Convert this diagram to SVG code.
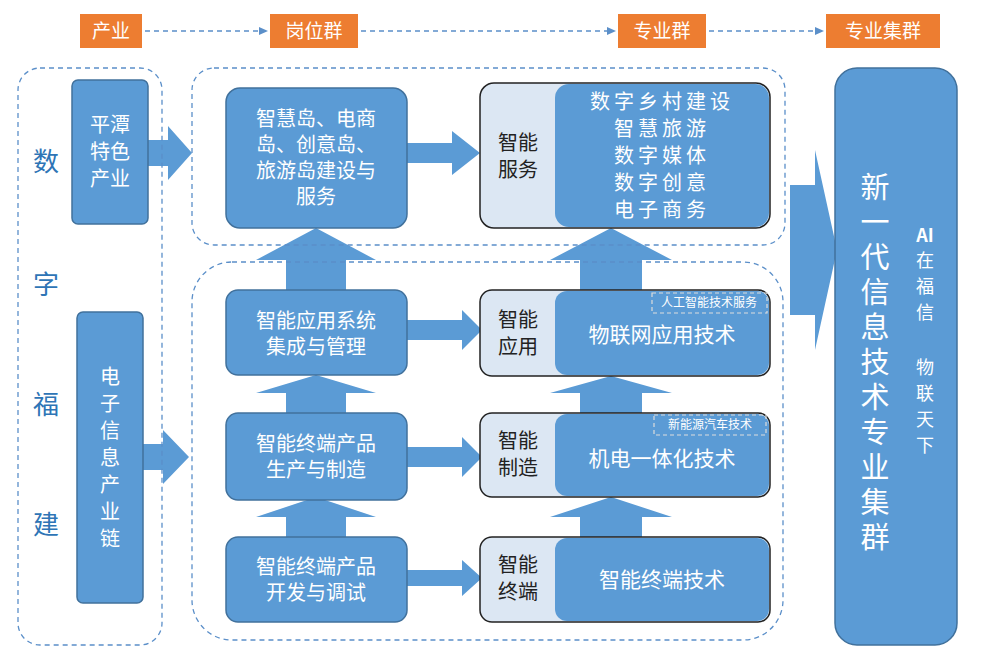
<svg xmlns="http://www.w3.org/2000/svg" width="1004" height="665" viewBox="0 0 1004 665">
<style>
text{font-family:"Noto Sans CJK SC","Liberation Sans",sans-serif;}
.hd{fill:#ED7D31}
.ht{fill:#fff;font-size:19px;text-anchor:middle}
.dash{fill:none;stroke:#5B8FC9;stroke-width:1.3;stroke-dasharray:5 4}
.bx{fill:#5B9BD5;stroke:#41719C;stroke-width:1.5}
.wt{fill:#fff;font-size:20px;text-anchor:middle}
.outer{fill:#DCE7F3;stroke:#222;stroke-width:1.5}
.inner{fill:#5B9BD5}
.dt{fill:#222;font-size:20px;text-anchor:middle}
.ar{fill:#5B9BD5}
.sm{fill:none;stroke:#ddd;stroke-width:1.2;stroke-dasharray:4 3}
.st{fill:#fff;font-size:12px;text-anchor:middle}
</style>
<rect width="1004" height="665" fill="#fff"/>
<g id="header">
<rect class="hd" x="80" y="14" width="62" height="34"/><text class="ht" x="111" y="38">产业</text>
<rect class="hd" x="270" y="14" width="88" height="34"/><text class="ht" x="314" y="38">岗位群</text>
<rect class="hd" x="618" y="14" width="88" height="34"/><text class="ht" x="662" y="38">专业群</text>
<rect class="hd" x="826" y="14" width="114" height="34"/><text class="ht" x="883" y="38">专业集群</text>
</g>
<g id="connectors">
<g stroke="#5B8FC9" stroke-width="1.5" stroke-dasharray="5 4" fill="none">
<line x1="145" y1="31" x2="262" y2="31"/><line x1="361" y1="31" x2="610" y2="31"/><line x1="709" y1="31" x2="818" y2="31"/>
</g>
<g fill="#5B8FC9"><path d="M268,31 l-9,-4 v8z"/><path d="M616,31 l-9,-4 v8z"/><path d="M824,31 l-9,-4 v8z"/></g>
<path class="ar" d="M148,140 h20 v-14 l24,27 -24,27 v-14 h-20z"/>
<path class="ar" d="M143,444 h20 v-14 l26,27 -26,27 v-14 h-20z"/>
<g class="ar">
<path d="M407,143 h45 v-12 l28,22 -28,22 v-12 h-45z"/>
<path d="M407,320 h55 v-10 l20,20 -20,20 v-10 h-55z"/>
<path d="M407,447 h55 v-10 l20,20 -20,20 v-10 h-55z"/>
<path d="M407,570 h55 v-10 l20,18 -20,18 v-10 h-55z"/>
<path d="M286,290 v-30 h-30 l60,-32 60,32 h-30 v30z"/>
<path d="M286,413 v-20 h-30 l60,-18 60,18 h-30 v20z"/>
<path d="M286,537 v-20 h-30 l60,-20 60,20 h-30 v20z"/>
<path d="M580,290 v-30 h-30 l61,-32 61,32 h-30 v30z"/>
<path d="M580,413 v-20 h-30 l61,-17 61,17 h-30 v20z"/>
<path d="M580,537 v-20 h-30 l61,-20 61,20 h-30 v20z"/>
<path d="M790,185 h25 v-35 l22,100 -22,100 v-35 h-25z"/>
</g>
</g>
<rect class="dash" x="18" y="68" width="144" height="577" rx="22"/>
<rect class="dash" x="192" y="68" width="593" height="177" rx="22"/>
<rect class="dash" x="192" y="262" width="591" height="378" rx="40"/>
<g id="shuzifujian" fill="#2E75B6" font-size="26" text-anchor="middle">
<text x="46" y="171">数</text><text x="46" y="294">字</text><text x="46" y="414">福</text><text x="46" y="534">建</text>
</g>
<g id="pingtan"><rect class="bx" x="72" y="80" width="76" height="144" rx="6"/>
<text class="wt" x="110" y="132">平潭</text><text class="wt" x="110" y="159">特色</text><text class="wt" x="110" y="186">产业</text></g>
<g id="dianzi"><rect class="bx" x="77" y="312" width="66" height="291" rx="6"/>
<text class="wt" x="110" y="384">电</text><text class="wt" x="110" y="411">子</text><text class="wt" x="110" y="438">信</text><text class="wt" x="110" y="465">息</text><text class="wt" x="110" y="492">产</text><text class="wt" x="110" y="519">业</text><text class="wt" x="110" y="546">链</text></g>
<g id="g1"><rect class="bx" x="226" y="88" width="181" height="140" rx="14"/>
<text class="wt" x="316" y="126">智慧岛、电商</text><text class="wt" x="316" y="152">岛、创意岛、</text><text class="wt" x="316" y="178">旅游岛建设与</text><text class="wt" x="316" y="204">服务</text></g>
<g id="g2"><rect class="bx" x="226" y="290" width="181" height="85" rx="12"/>
<text class="wt" x="316" y="328">智能应用系统</text><text class="wt" x="316" y="354">集成与管理</text></g>
<g id="g3"><rect class="bx" x="226" y="413" width="181" height="87" rx="12"/>
<text class="wt" x="316" y="451">智能终端产品</text><text class="wt" x="316" y="477">生产与制造</text></g>
<g id="g4"><rect class="bx" x="226" y="537" width="181" height="85" rx="12"/>
<text class="wt" x="316" y="574">智能终端产品</text><text class="wt" x="316" y="600">开发与调试</text></g>
<g id="z1"><rect class="outer" x="480" y="83" width="290" height="145" rx="14"/>
<rect class="inner" x="555" y="84" width="214" height="143" rx="14"/>
<text class="dt" x="518" y="150">智能</text><text class="dt" x="518" y="177">服务</text>
<g style="letter-spacing:4px"><text class="wt" x="662" y="109">数字乡村建设</text><text class="wt" x="662" y="136">智慧旅游</text><text class="wt" x="662" y="163">数字媒体</text><text class="wt" x="662" y="190">数字创意</text><text class="wt" x="662" y="217">电子商务</text></g></g>
<g id="z2"><rect class="outer" x="480" y="290" width="290" height="86" rx="12"/>
<rect class="inner" x="555" y="291" width="214" height="84" rx="12"/>
<text class="dt" x="518" y="327">智能</text><text class="dt" x="518" y="354">应用</text>
<rect class="sm" x="652" y="293" width="115" height="20"/><text class="st" x="709" y="307">人工智能技术服务</text>
<text class="wt" x="662" y="342" style="font-size:21px">物联网应用技术</text></g>
<g id="z3"><rect class="outer" x="480" y="413" width="290" height="84" rx="12"/>
<rect class="inner" x="555" y="414" width="214" height="82" rx="12"/>
<text class="dt" x="518" y="448">智能</text><text class="dt" x="518" y="475">制造</text>
<rect class="sm" x="654" y="415" width="112" height="20"/><text class="st" x="710" y="429">新能源汽车技术</text>
<text class="wt" x="662" y="466" style="font-size:21px">机电一体化技术</text></g>
<g id="z4"><rect class="outer" x="480" y="537" width="290" height="85" rx="12"/>
<rect class="inner" x="555" y="538" width="214" height="83" rx="12"/>
<text class="dt" x="518" y="572">智能</text><text class="dt" x="518" y="599">终端</text>
<text class="wt" x="662" y="587" style="font-size:21px">智能终端技术</text></g>
<g id="cluster"><rect class="bx" x="835" y="68" width="122" height="577" rx="22"/>
<g fill="#fff" font-size="29" text-anchor="middle">
<text x="875" y="198">新</text><text x="875" y="233">一</text><text x="875" y="268">代</text><text x="875" y="303">信</text><text x="875" y="338">息</text><text x="875" y="373">技</text><text x="875" y="408">术</text><text x="875" y="443">专</text><text x="875" y="478">业</text><text x="875" y="513">集</text><text x="875" y="548">群</text></g>
<g fill="#fff" font-size="18" text-anchor="middle">
<text x="925" y="242" font-weight="bold" font-family="Liberation Sans">AI</text><text x="925" y="267">在</text><text x="925" y="293">福</text><text x="925" y="319">信</text>
<text x="925" y="374">物</text><text x="925" y="400">联</text><text x="925" y="426">天</text><text x="925" y="452">下</text></g></g>
</svg>
